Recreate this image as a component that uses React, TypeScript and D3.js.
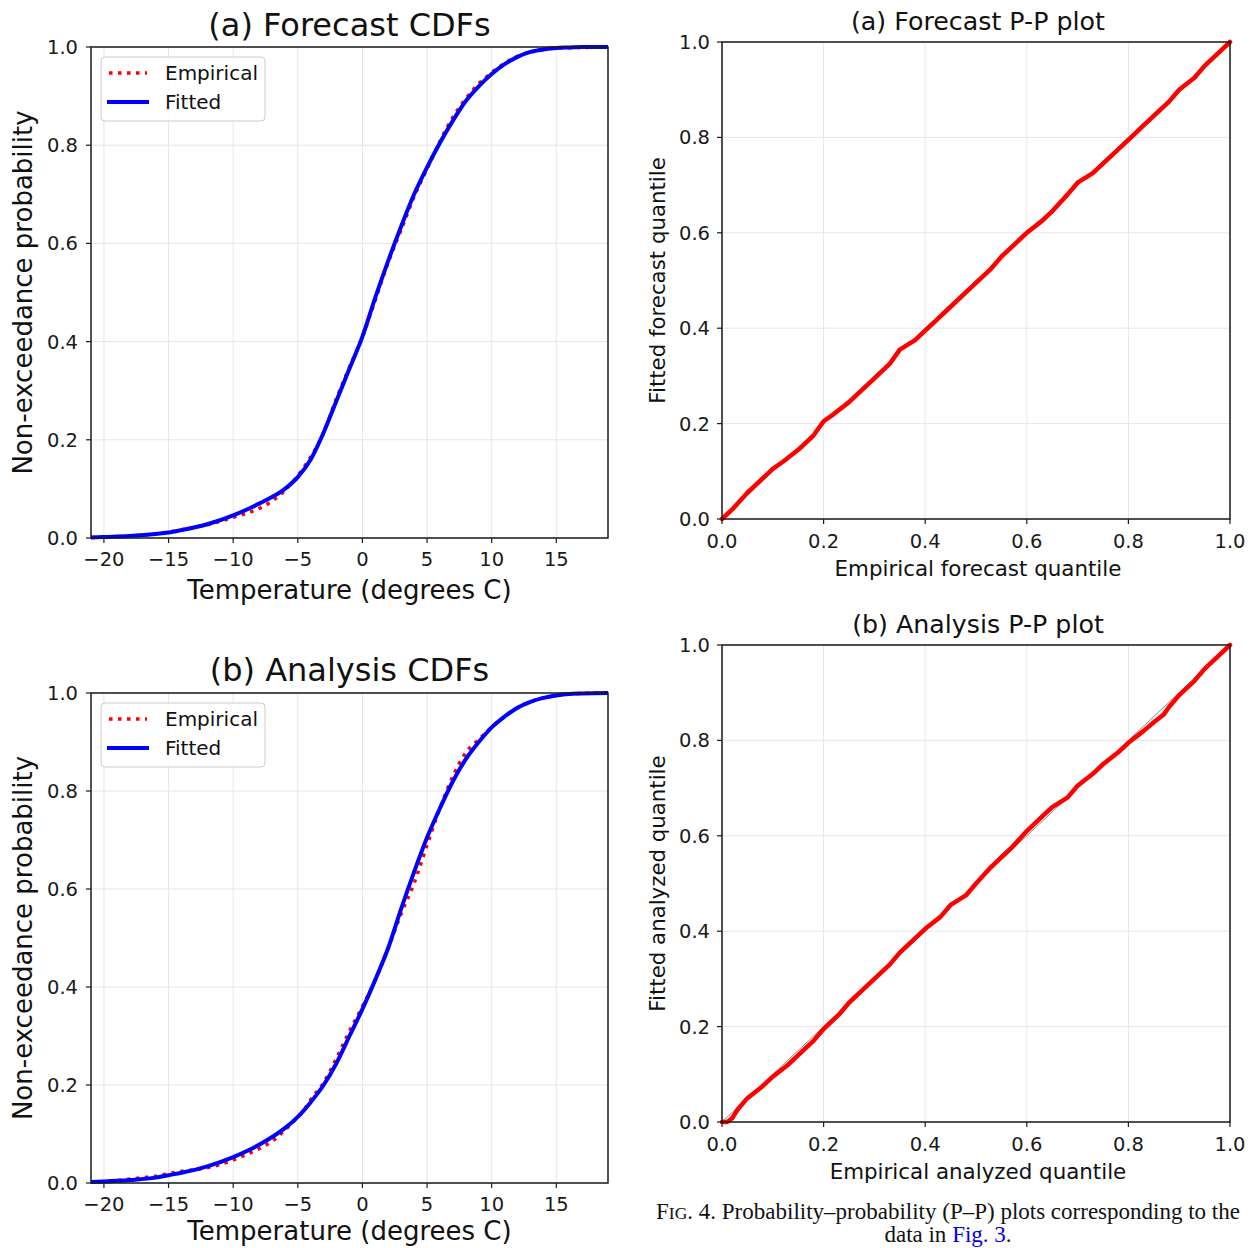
import React from "react";
import * as d3 from "d3";

// ---------- DATA ----------
const cdfTemps = [-21, -20, -18, -16, -15, -14, -12, -10, -8, -6, -5, -4, -3, -2, -1, 0, 1, 2, 3, 4, 5, 6, 7, 8, 9, 10, 11, 12, 13, 14, 15, 16, 17, 19];
const forecastFitted = [0.001, 0.002, 0.004, 0.008, 0.011, 0.016, 0.028, 0.046, 0.07, 0.1, 0.124, 0.16, 0.215, 0.28, 0.345, 0.41, 0.49, 0.565, 0.635, 0.7, 0.755, 0.805, 0.85, 0.89, 0.92, 0.945, 0.965, 0.98, 0.99, 0.995, 0.998, 0.999, 1, 1];
const analysisFitted = [0.002, 0.003, 0.006, 0.011, 0.016, 0.021, 0.034, 0.053, 0.078, 0.112, 0.135, 0.165, 0.2, 0.245, 0.3, 0.355, 0.415, 0.48, 0.56, 0.635, 0.705, 0.765, 0.82, 0.865, 0.9, 0.93, 0.952, 0.97, 0.982, 0.99, 0.995, 0.998, 0.999, 1];

const empTemps = [-21, -20, -19, -18, -17, -16, -15, -14, -13, -12, -11, -10, -9, -8, -7, -6, -5, -4.5, -4, -3, -2, -1, 0, 1, 2, 3, 4, 5, 6, 7, 8, 9, 10, 11, 12, 13, 14, 15, 17, 19];
const forecastEmpirical = [0.001, 0.002, 0.003, 0.004, 0.006, 0.008, 0.012, 0.017, 0.022, 0.027, 0.034, 0.042, 0.05, 0.06, 0.075, 0.097, 0.127, 0.145, 0.165, 0.215, 0.285, 0.348, 0.41, 0.485, 0.562, 0.628, 0.695, 0.752, 0.808, 0.857, 0.895, 0.925, 0.948, 0.967, 0.981, 0.99, 0.995, 0.998, 0.999, 1];
const analysisEmpirical = [0.002, 0.003, 0.005, 0.008, 0.011, 0.014, 0.019, 0.024, 0.027, 0.031, 0.038, 0.047, 0.058, 0.07, 0.085, 0.108, 0.135, 0.15, 0.17, 0.205, 0.255, 0.31, 0.36, 0.415, 0.48, 0.55, 0.612, 0.69, 0.765, 0.83, 0.878, 0.905, 0.93, 0.952, 0.97, 0.982, 0.99, 0.995, 0.999, 1];

const ppForecastX = [0, 0.02, 0.05, 0.08, 0.1, 0.12, 0.15, 0.18, 0.2, 0.22, 0.25, 0.28, 0.3, 0.33, 0.35, 0.38, 0.4, 0.43, 0.45, 0.48, 0.5, 0.53, 0.55, 0.58, 0.6, 0.63, 0.65, 0.68, 0.7, 0.73, 0.75, 0.78, 0.8, 0.83, 0.85, 0.88, 0.9, 0.93, 0.95, 0.98, 1];
const ppForecastY = [0, 0.02, 0.055, 0.085, 0.105, 0.12, 0.145, 0.175, 0.205, 0.22, 0.245, 0.275, 0.295, 0.325, 0.355, 0.375, 0.395, 0.425, 0.445, 0.475, 0.495, 0.525, 0.55, 0.58, 0.6, 0.625, 0.645, 0.68, 0.705, 0.725, 0.745, 0.775, 0.795, 0.825, 0.845, 0.875, 0.9, 0.925, 0.95, 0.98, 1];
const ppAnalysisX = [0, 0.01, 0.02, 0.03, 0.05, 0.08, 0.1, 0.13, 0.15, 0.18, 0.2, 0.23, 0.25, 0.28, 0.3, 0.33, 0.35, 0.38, 0.4, 0.43, 0.45, 0.48, 0.5, 0.53, 0.55, 0.57, 0.6, 0.63, 0.65, 0.68, 0.7, 0.73, 0.75, 0.78, 0.8, 0.83, 0.85, 0.87, 0.88, 0.9, 0.93, 0.95, 0.98, 1];
const ppAnalysisY = [0, 0.0, 0.008, 0.025, 0.05, 0.075, 0.095, 0.12, 0.14, 0.17, 0.195, 0.225, 0.25, 0.28, 0.3, 0.33, 0.355, 0.385, 0.405, 0.43, 0.455, 0.475, 0.5, 0.535, 0.555, 0.575, 0.61, 0.64, 0.66, 0.68, 0.705, 0.73, 0.75, 0.775, 0.795, 0.82, 0.838, 0.855, 0.87, 0.895, 0.925, 0.95, 0.98, 1];

const cdfXTicks = [-20, -15, -10, -5, 0, 5, 10, 15];
const probTicks = [0, 0.2, 0.4, 0.6, 0.8, 1.0];

const FONT = "DejaVu Sans, sans-serif";
const GRID = "#e6e6e6";

const fmtTemp = (v: number) => (v < 0 ? "\u2212" + Math.abs(v) : String(v));
const fmtP = (v: number) => v.toFixed(1);

type Box = { left: number; right: number; top: number; bottom: number };

function Frame({ box }: { box: Box }) {
  return (
    <rect x={box.left} y={box.top} width={box.right - box.left} height={box.bottom - box.top} fill="none" stroke="#1a1a1a" strokeWidth={1.5} />
  );
}

function CdfPanel({ box, title, titleY, fitted, empirical, xLabelY }: { box: Box; title: string; titleY: number; fitted: number[]; empirical: number[]; xLabelY: number }) {
  const x = d3.scaleLinear().domain([-21, 19]).range([box.left, box.right]);
  const y = d3.scaleLinear().domain([0, 1]).range([box.bottom, box.top]);
  const line = d3.line<[number, number]>().x((d) => x(d[0])).y((d) => y(d[1])).curve(d3.curveMonotoneX);
  const fitPts = cdfTemps.map((t, i) => [t, fitted[i]] as [number, number]);
  const empPts = empTemps.map((t, i) => [t, empirical[i]] as [number, number]);
  const cx = (box.left + box.right) / 2;
  const cy = (box.top + box.bottom) / 2;
  const lgX = box.left + 10, lgY = box.top + 10;
  return (
    <g>
      {cdfXTicks.map((t) => (
        <line key={"gx" + t} x1={x(t)} x2={x(t)} y1={box.top} y2={box.bottom} stroke={GRID} strokeWidth={1} />
      ))}
      {probTicks.map((t) => (
        <line key={"gy" + t} x1={box.left} x2={box.right} y1={y(t)} y2={y(t)} stroke={GRID} strokeWidth={1} />
      ))}
      <path d={line(empPts) || ""} fill="none" stroke="#ff0000" strokeWidth={3.5} strokeDasharray="3.5,5.5" />
      <path d={line(fitPts) || ""} fill="none" stroke="#0000ff" strokeWidth={4} />
      <Frame box={box} />
      {cdfXTicks.map((t) => (
        <g key={"tx" + t}>
          <line x1={x(t)} x2={x(t)} y1={box.bottom} y2={box.bottom + 5} stroke="#1a1a1a" strokeWidth={1.2} />
          <text x={x(t)} y={box.bottom + 28} textAnchor="middle" fontFamily={FONT} fontSize={19.5} fill="#1a1a1a">{fmtTemp(t)}</text>
        </g>
      ))}
      {probTicks.map((t) => (
        <g key={"ty" + t}>
          <line x1={box.left - 5} x2={box.left} y1={y(t)} y2={y(t)} stroke="#1a1a1a" strokeWidth={1.2} />
          <text x={box.left - 13} y={y(t) + 7} textAnchor="end" fontFamily={FONT} fontSize={19.5} fill="#1a1a1a">{fmtP(t)}</text>
        </g>
      ))}
      <text x={cx} y={titleY} textAnchor="middle" fontFamily={FONT} fontSize={32} fill="#111">{title}</text>
      <text x={cx} y={xLabelY} textAnchor="middle" fontFamily={FONT} fontSize={26} fill="#111">Temperature (degrees C)</text>
      <text transform={`translate(32,${cy}) rotate(-90)`} textAnchor="middle" fontFamily={FONT} fontSize={26} fill="#111">Non-exceedance probability</text>
      <rect x={lgX} y={lgY} width={164} height={64} rx={4} fill="white" fillOpacity={0.85} stroke="#cccccc" strokeWidth={1} />
      <line x1={lgX + 8} x2={lgX + 46} y1={lgY + 16} y2={lgY + 16} stroke="#ff0000" strokeWidth={3.5} strokeDasharray="3.5,5.5" />
      <text x={lgX + 64} y={lgY + 23} fontFamily={FONT} fontSize={20} fill="#111">Empirical</text>
      <line x1={lgX + 6} x2={lgX + 48} y1={lgY + 45} y2={lgY + 45} stroke="#0000ff" strokeWidth={4} />
      <text x={lgX + 64} y={lgY + 52} fontFamily={FONT} fontSize={20} fill="#111">Fitted</text>
    </g>
  );
}

function PPPanel({ box, title, titleY, xs, ys, xLabel, yLabel, xLabelY }: { box: Box; title: string; titleY: number; xs: number[]; ys: number[]; xLabel: string; yLabel: string; xLabelY: number }) {
  const x = d3.scaleLinear().domain([0, 1]).range([box.left, box.right]);
  const y = d3.scaleLinear().domain([0, 1]).range([box.bottom, box.top]);
  const line = d3.line<[number, number]>().x((d) => x(d[0])).y((d) => y(d[1]));
  const pts = xs.map((v, i) => [v, ys[i]] as [number, number]);
  const cx = (box.left + box.right) / 2;
  const cy = (box.top + box.bottom) / 2;
  return (
    <g>
      {probTicks.map((t) => (
        <line key={"gx" + t} x1={x(t)} x2={x(t)} y1={box.top} y2={box.bottom} stroke={GRID} strokeWidth={1} />
      ))}
      {probTicks.map((t) => (
        <line key={"gy" + t} x1={box.left} x2={box.right} y1={y(t)} y2={y(t)} stroke={GRID} strokeWidth={1} />
      ))}
      <line x1={x(0)} y1={y(0)} x2={x(1)} y2={y(1)} stroke="#888" strokeWidth={1} />
      <path d={line(pts) || ""} fill="none" stroke="#ff0000" strokeWidth={4.5} strokeLinejoin="round" strokeLinecap="round" />
      <Frame box={box} />
      {probTicks.map((t) => (
        <g key={"tx" + t}>
          <line x1={x(t)} x2={x(t)} y1={box.bottom} y2={box.bottom + 5} stroke="#1a1a1a" strokeWidth={1.2} />
          <text x={x(t)} y={box.bottom + 29} textAnchor="middle" fontFamily={FONT} fontSize={19.5} fill="#1a1a1a">{fmtP(t)}</text>
        </g>
      ))}
      {probTicks.map((t) => (
        <g key={"ty" + t}>
          <line x1={box.left - 5} x2={box.left} y1={y(t)} y2={y(t)} stroke="#1a1a1a" strokeWidth={1.2} />
          <text x={box.left - 12} y={y(t) + 7} textAnchor="end" fontFamily={FONT} fontSize={19.5} fill="#1a1a1a">{fmtP(t)}</text>
        </g>
      ))}
      <text x={cx + 2} y={titleY} textAnchor="middle" fontFamily={FONT} fontSize={25.3} fill="#111">{title}</text>
      <text x={cx + 2} y={xLabelY} textAnchor="middle" fontFamily={FONT} fontSize={21.4} fill="#111">{xLabel}</text>
      <text transform={`translate(665,${cy}) rotate(-90)`} textAnchor="middle" fontFamily={FONT} fontSize={21.3} fill="#111">{yLabel}</text>
    </g>
  );
}

export default function App() {
  const SERIF = "Liberation Serif, Times New Roman, serif";
  return (
    <svg width={1257} height={1248} style={{ position: "absolute", left: 0, top: 0, background: "white" }}>
      <rect x={0} y={0} width={1257} height={1248} fill="white" />
      <CdfPanel box={{ left: 91, right: 608, top: 47, bottom: 538 }} title="(a) Forecast CDFs" titleY={36} fitted={forecastFitted} empirical={forecastEmpirical} xLabelY={599} />
      <CdfPanel box={{ left: 91, right: 608, top: 693, bottom: 1183 }} title="(b) Analysis CDFs" titleY={681} fitted={analysisFitted} empirical={analysisEmpirical} xLabelY={1240} />
      <PPPanel box={{ left: 722, right: 1230, top: 42, bottom: 519 }} title="(a) Forecast P-P plot" titleY={30} xs={ppForecastX} ys={ppForecastY} xLabel="Empirical forecast quantile" yLabel="Fitted forecast quantile" xLabelY={576} />
      <PPPanel box={{ left: 722, right: 1230, top: 645, bottom: 1122 }} title="(b) Analysis P-P plot" titleY={633} xs={ppAnalysisX} ys={ppAnalysisY} xLabel="Empirical analyzed quantile" yLabel="Fitted analyzed quantile" xLabelY={1179} />
      <text x={948} y={1219} textAnchor="middle" fontFamily={SERIF} fontSize={23} fill="#111">
        F<tspan fontSize={17.5}>IG</tspan>. 4. Probability–probability (P–P) plots corresponding to the
      </text>
      <text x={948} y={1242} textAnchor="middle" fontFamily={SERIF} fontSize={23} fill="#111">
        data in <tspan fill="#0000ee">Fig. 3</tspan>.
      </text>
    </svg>
  );
}
